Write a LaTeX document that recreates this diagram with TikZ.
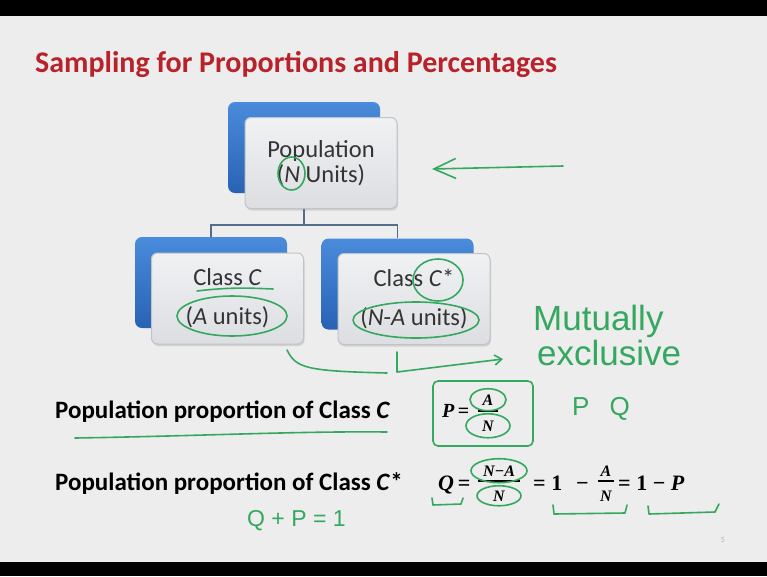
\documentclass[tikz,border=0pt]{standalone}
\usepackage{fontspec}
\setmainfont{Carlito}
\newfontfamily\handfont{Liberation Sans}
\newfontfamily\eqfont{Liberation Serif}
\usetikzlibrary{positioning, calc, shadows, arrows.meta}

\definecolor{slidebg}{HTML}{EDEDED}
\definecolor{titlered}{HTML}{B8222B}
\definecolor{blueTop}{HTML}{4A8BDC}
\definecolor{blueBot}{HTML}{2962B4}
\definecolor{frontTop}{HTML}{F0F1F3}
\definecolor{frontBot}{HTML}{DDDEE2}
\definecolor{frontEdge}{HTML}{C2C3C8}
\definecolor{linkblue}{HTML}{566C8C}
\definecolor{pengreen}{HTML}{35A860}
\definecolor{inkgray}{HTML}{333333}

\tikzstyle{slidetitle} = [anchor=base west, inner sep=0pt, text=titlered,
    font=\fontsize{30}{36}\selectfont\bfseries]
\tikzstyle{backbox} = [rectangle, rounded corners=7pt, minimum width=152pt,
    minimum height=91pt, top color=blueTop, bottom color=blueBot]
\tikzstyle{frontbox} = [rectangle, rounded corners=6pt, minimum width=152pt,
    minimum height=91pt, top color=frontTop, bottom color=frontBot,
    draw=frontEdge, line width=1pt, align=center, text=inkgray,
    drop shadow={shadow xshift=1pt, shadow yshift=-2pt, opacity=0.25},
    font=\fontsize{24.5}{25}\selectfont]
\tikzstyle{link} = [draw=linkblue, line width=1.6pt]
\tikzstyle{bodytext} = [anchor=base west, inner sep=0pt, text=black,
    font=\fontsize{25}{30}\selectfont\bfseries]
\tikzstyle{eqtext} = [anchor=base west, inner sep=0pt, text=black,
    font=\eqfont\fontsize{22}{26}\selectfont\bfseries]
\tikzstyle{fracpart} = [anchor=base, inner sep=0pt, text=black,
    font=\eqfont\fontsize{16}{18}\selectfont\bfseries\itshape]
\tikzstyle{fracbar} = [draw=black, line width=1.1pt]
\tikzstyle{penline} = [draw=pengreen, line width=1.6pt, line cap=round, line join=round]
\tikzstyle{handtext} = [anchor=base west, inner sep=0pt, text=pengreen,
    font=\fontsize{35}{40}\selectfont\handfont]
\tikzstyle{smallhand} = [handtext, font=\fontsize{23}{28}\selectfont\handfont]

\begin{document}
\begin{tikzpicture}[x=1pt, y=-1pt]
  % slide
  \fill[slidebg] (0,0) rectangle (767,576);
  \fill[black] (0,0) rectangle (767,16);
  \fill[black] (0,562) rectangle (767,576);
  \node[slidetitle] (title) at (35,72) {Sampling for Proportions and Percentages};

  % hierarchy
  \node[backbox] (popB) at (304,147.5) {};
  \node[backbox] (clsB) at (211,282.5) {};
  \node[backbox] (clsStarB) at (397.5,284) {};
  \draw[link] (popB.south) -- ++(0,32) coordinate (fork) -| (clsB.north);
  \draw[link] (fork) -| (clsStarB.north);
  \node[frontbox] (popF) at (321,163) {Population\\(\textit{N} Units)};
  \node[frontbox] (clsF) at (227.5,298.5) {Class \textit{C}\\[14pt](\textit{A} units)};
  \node[frontbox] (clsStarF) at (414,299) {Class \textit{C}*\\[14pt](\textit{N}-\textit{A} units)};

  % proportions
  \node[bodytext] (lineP) at (55,418) {Population proportion of Class \textit{C}};
  \node[bodytext] (lineQ) at (55,490) {Population proportion of Class \textit{C}*};
  \node[eqtext, font=\eqfont\fontsize{20}{24}\selectfont\bfseries] (eqP) at (442,417) {\textit{P}\,=};
  \node[fracpart] (pNum) at (488,405) {A};
  \node[fracpart] (pDen) at (488,431) {N};
  \draw[fracbar] (478,411) -- (498,411);
  \node[eqtext] (eqQ) at (438,490) {\textit{Q}\,=};
  \node[fracpart] (qNum) at (499,476) {N−A};
  \node[fracpart] (qDen) at (499,501) {N};
  \draw[fracbar] (478,481) -- (520,481);
  \node[eqtext] (eqQone) at (533,490) {= 1\hspace{14pt}−};
  \node[fracpart] (aNum) at (606,476) {A};
  \node[fracpart] (aDen) at (606,501) {N};
  \draw[fracbar] (598,481) -- (614,481);
  \node[eqtext] (eqQp) at (618,490) {= 1 − \textit{P}};
  \node[text=gray!60, font=\fontsize{8}{9}\selectfont] (pageno) at (723,540) {5};

  % pen marks
  \draw[penline] (291.5,173.5) ellipse [x radius=13.5, y radius=16.5];
  \draw[penline, -{Straight Barb[length=22pt, width=20pt]}] (563,166) -- (432,169);
  \draw[penline] (197,291) .. controls (230,287) and (250,288) .. (273,289);
  \draw[penline] (232,316) ellipse [x radius=55, y radius=20];
  \draw[penline] (438,280) ellipse [x radius=25, y radius=21];
  \draw[penline] (416,320) ellipse [x radius=63, y radius=18];
  \draw[penline] (287,350) .. controls (296,368) and (305,371) .. (387,373);
  \draw[penline, -{Straight Barb[length=7pt, width=10pt]}] (397,352) -- (397,372) -- (503,359);
  \node[handtext] (mutual) at (533,330) {Mutually};
  \node[handtext] (exclusive) at (537,365) {exclusive};
  \node[smallhand, font=\fontsize{26}{30}\selectfont\handfont] (pq) at (572,415) {P\hspace{20pt}Q};
  \draw[penline] (75,438) .. controls (200,436) and (300,431) .. (387,432);
  \draw[penline, rounded corners=5pt] (433,381) rectangle (533,446);
  \draw[penline] (pNum) ellipse [x radius=18, y radius=11];
  \draw[penline] (pDen) ellipse [x radius=22, y radius=12];
  \draw[penline] (qNum) ellipse [x radius=28, y radius=12];
  \draw[penline] (qDen) ellipse [x radius=22, y radius=10];
  \draw[penline] (432,498) -- (433,505) -- (461,504) -- (463,498);
  \draw[penline] (553,505) -- (554,514) -- (625,513) -- (627,505);
  \draw[penline] (648,506) -- (649,514) -- (715,512) -- (719,504);
  \node[smallhand] (qpone) at (247,526) {Q + P = 1};
\end{tikzpicture}
\end{document}
